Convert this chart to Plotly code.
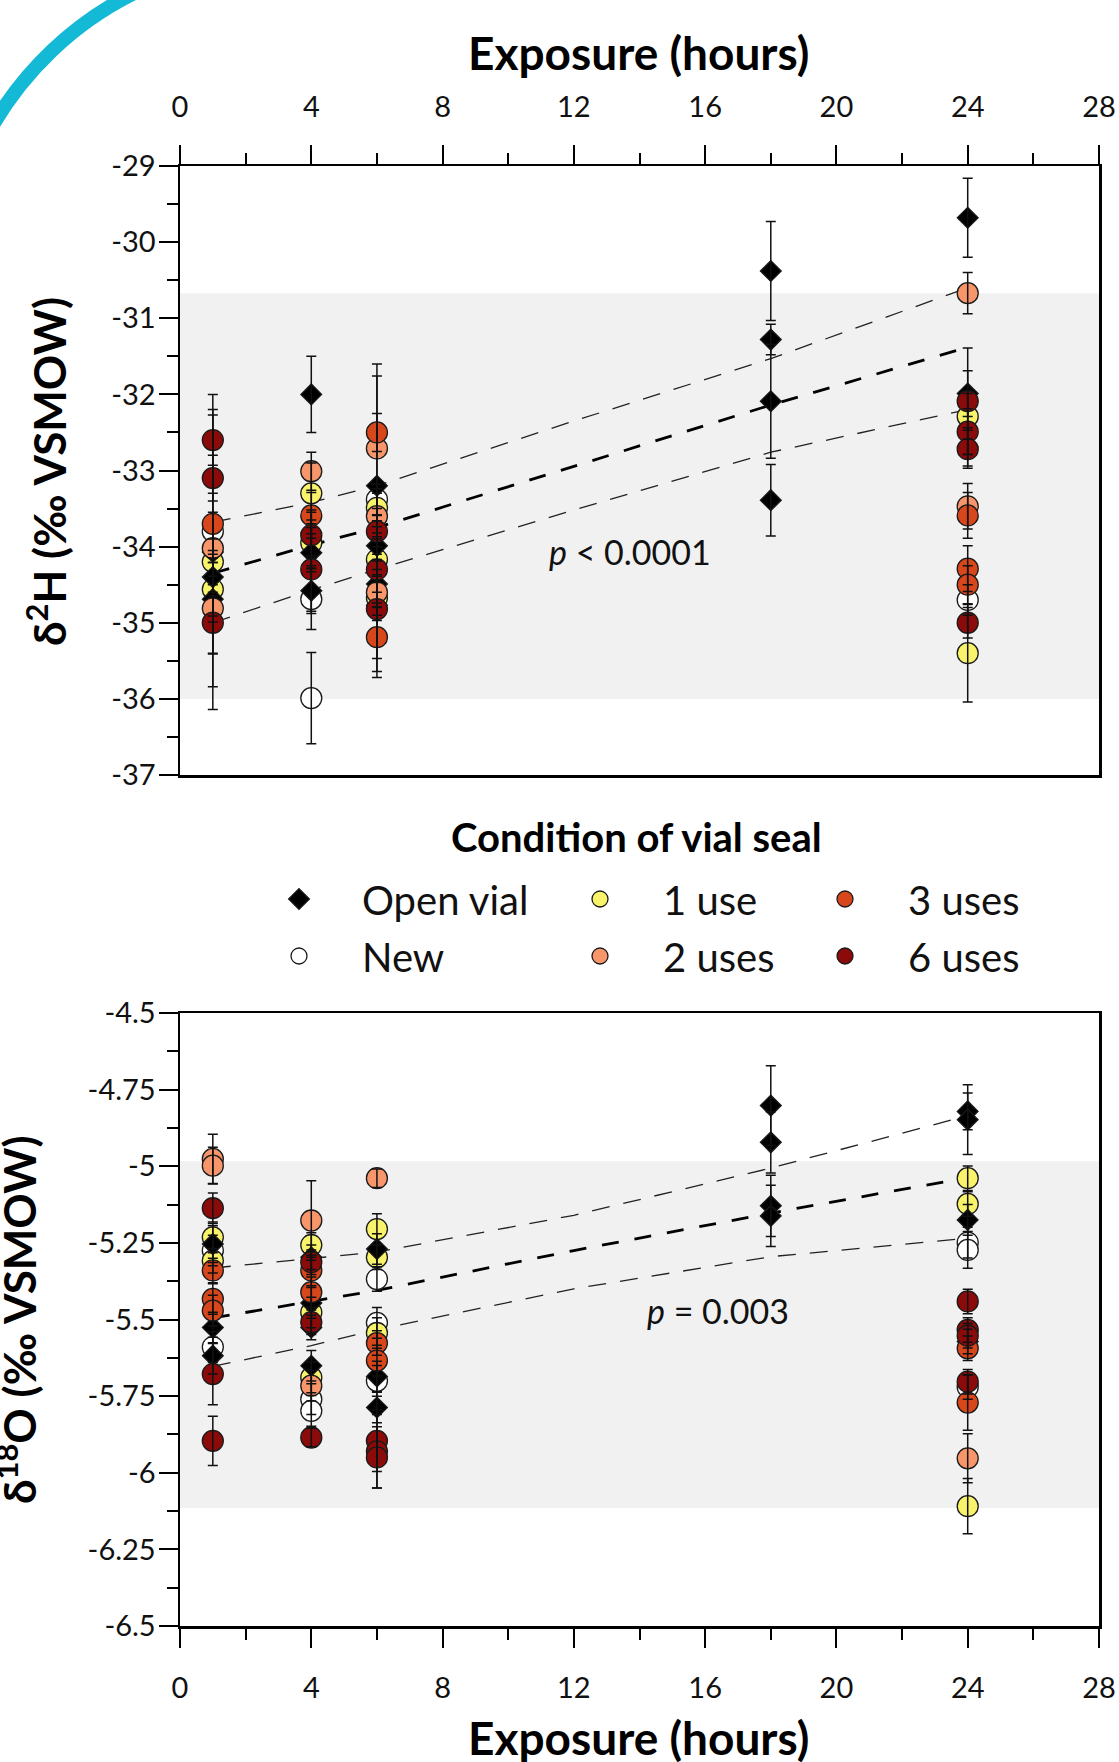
import math
import plotly.graph_objects as go

W, H = 1119, 1762

# ---------------- data: delta 2H (top panel) ----------------
open_x_H = [1, 1, 1, 4, 4, 4, 4, 6, 6, 6, 6, 18, 18, 18, 18, 24, 24, 24]
open_H = [-34.07, -34.40, -34.69, -32.00, -33.82, -34.08, -34.58, -33.20, -33.99, -34.49, -34.77,
          -30.38, -31.28, -32.09, -33.39, -29.68, -31.99, -32.69]
open_H_err = [2.07, 0.25, 0.30, 0.50, 0.30, 0.25, 0.30, 1.60, 0.40, 0.30, 0.95,
              0.65, 0.20, 0.75, 0.47, 0.52, 0.30, 0.25]

new_x_H = [1, 4, 4, 6, 24]
new_H = [-33.80, -34.69, -35.99, -33.38, -34.70]
new_H_err = [0.25, 0.40, 0.60, 0.20, 0.20]

one_x_H = [1, 1, 4, 4, 6, 6, 6, 24, 24]
one_H = [-34.20, -34.56, -33.30, -33.95, -33.49, -34.17, -34.67, -32.29, -35.40]
one_H_err = [0.30, 0.35, 0.40, 0.30, 0.25, 0.30, 0.30, 0.30, 0.64]

two_x_H = [1, 1, 4, 6, 6, 6, 24, 24]
two_H = [-34.02, -34.81, -33.01, -32.71, -33.60, -34.60, -30.67, -33.47]
two_H_err = [1.82, 0.60, 0.25, 0.95, 0.30, 0.30, 0.27, 0.30]

three_x_H = [1, 4, 6, 6, 24, 24, 24]
three_H = [-33.70, -33.59, -32.50, -35.19, -33.59, -34.29, -34.50]
three_H_err = [0.40, 0.30, 0.25, 0.45, 0.30, 0.30, 0.25]

six_x_H = [1, 1, 1, 4, 4, 6, 6, 6, 24, 24, 24, 24]
six_H = [-32.60, -33.10, -35.00, -33.85, -34.30, -33.80, -34.30, -34.82, -32.09, -32.49, -32.72, -35.00]
six_H_err = [0.33, 0.30, 0.40, 0.30, 0.55, 0.30, 0.30, 0.65, 0.70, 0.30, 0.25, 0.20]

# ---------------- data: delta 18O (bottom panel) ----------------
open_x_O = [1, 1, 1, 4, 4, 4, 4, 6, 6, 6, 18, 18, 18, 18, 24, 24, 24, 24]
open_O = [-5.254, -5.526, -5.618, -5.297, -5.446, -5.526, -5.651, -5.270, -5.686, -5.787,
          -4.802, -4.922, -5.129, -5.162, -4.821, -4.848, -5.175, -5.572]
open_O_err = [0.06, 0.05, 0.06, 0.04, 0.05, 0.04, 0.05, 0.05, 0.05, 0.05,
              0.13, 0.10, 0.10, 0.10, 0.06, 0.114, 0.05, 0.04]

new_x_O = [1, 1, 4, 4, 6, 6, 6, 24, 24, 24]
new_O = [-5.275, -5.590, -5.760, -5.798, -5.368, -5.511, -5.700, -5.249, -5.273, -5.720]
new_O_err = [0.05, 0.05, 0.05, 0.05, 0.04, 0.05, 0.05, 0.05, 0.06, 0.04]

one_x_O = [1, 1, 4, 4, 4, 6, 6, 6, 24, 24, 24]
one_O = [-5.232, -5.308, -5.257, -5.477, -5.689, -5.205, -5.297, -5.544, -5.039, -5.123, -6.109]
one_O_err = [0.05, 0.04, 0.04, 0.05, 0.05, 0.05, 0.04, 0.05, 0.04, 0.04, 0.09]

two_x_O = [1, 1, 4, 4, 6, 24]
two_O = [-4.976, -4.998, -5.177, -5.716, -5.039, -5.953]
two_O_err = [0.08, 0.06, 0.13, 0.05, 0.03, 0.08]

three_x_O = [1, 1, 1, 4, 4, 6, 6, 24, 24]
three_O = [-5.340, -5.433, -5.471, -5.340, -5.411, -5.577, -5.634, -5.594, -5.771]
three_O_err = [0.04, 0.05, 0.05, 0.05, 0.05, 0.04, 0.05, 0.04, 0.09]

six_x_O = [1, 1, 1, 4, 4, 4, 6, 6, 6, 24, 24, 24, 24]
six_O = [-5.137, -5.678, -5.896, -5.313, -5.509, -5.885, -5.896, -5.930, -5.950,
         -5.441, -5.534, -5.553, -5.703]
six_O_err = [0.05, 0.10, 0.08, 0.04, 0.04, 0.03, 0.10, 0.12, 0.10, 0.04, 0.04, 0.04, 0.04]

# ---------------- regression line and confidence bands ----------------
trend_x = [1, 4, 6, 12, 18, 24]
H_fit = [-34.35, -33.98, -33.75, -32.95, -32.14, -31.38]
H_upper = [-33.68, -33.42, -33.20, -32.35, -31.53, -30.60]
H_lower = [-35.00, -34.57, -34.30, -33.52, -32.76, -32.20]
O_fit = [-5.495, -5.440, -5.405, -5.275, -5.153, -5.037]
O_upper = [-5.332, -5.300, -5.280, -5.160, -5.006, -4.835]
O_lower = [-5.653, -5.585, -5.533, -5.400, -5.295, -5.235]

# shaded reference ranges
H_band = [-30.67, -36.00]
O_band = [-4.984, -6.115]

# ticks
x_ticks = [0, 4, 8, 12, 16, 20, 24, 28]
x_ticktext = ["0", "4", "8", "12", "16", "20", "24", "28"]
H_ticks = [-29, -30, -31, -32, -33, -34, -35, -36, -37]
H_ticktext = ["-29", "-30", "-31", "-32", "-33", "-34", "-35", "-36", "-37"]
O_ticks = [-4.5, -4.75, -5.0, -5.25, -5.5, -5.75, -6.0, -6.25, -6.5]
O_ticktext = ["-4.5", "-4.75", "-5", "-5.25", "-5.5", "-5.75", "-6", "-6.25", "-6.5"]

colors = ["#ffffff", "#f9f36c", "#000000", "#f7966a", "#d8461c", "#8b0b0b"]

FONT = "Lato"

series = [
    # name, xH, yH, eH, xO, yO, eO, symbol, color, legend id
    ("New", new_x_H, new_H, new_H_err, new_x_O, new_O, new_O_err, "circle", colors[0], "legend4"),
    ("1 use", one_x_H, one_H, one_H_err, one_x_O, one_O, one_O_err, "circle", colors[1], "legend2"),
    ("Open vial", open_x_H, open_H, open_H_err, open_x_O, open_O, open_O_err, "diamond", colors[2], "legend"),
    ("2 uses", two_x_H, two_H, two_H_err, two_x_O, two_O, two_O_err, "circle", colors[3], "legend5"),
    ("3 uses", three_x_H, three_H, three_H_err, three_x_O, three_O, three_O_err, "circle", colors[4], "legend3"),
    ("6 uses", six_x_H, six_H, six_H_err, six_x_O, six_O, six_O_err, "circle", colors[5], "legend6"),
]

fig = go.Figure()

# regression lines (drawn first, beneath the markers)
for xa, ya, fit, up, lo in [("x", "y", H_fit, H_upper, H_lower), ("x2", "y2", O_fit, O_upper, O_lower)]:
    for yy in (up, lo):
        fig.add_trace(go.Scatter(x=trend_x, y=yy, mode="lines", xaxis=xa, yaxis=ya,
                                 line=dict(color="#222222", width=1.3, dash="18px,14px"),
                                 showlegend=False, hoverinfo="skip"))
    fig.add_trace(go.Scatter(x=trend_x, y=fit, mode="lines", xaxis=xa, yaxis=ya,
                             line=dict(color="#000000", width=2.8, dash="17px,16px"),
                             showlegend=False, hoverinfo="skip"))

# markers
for name, xH, yH, eH, xO, yO, eO, sym, col, leg in series:
    size = 16 if sym == "diamond" else 21
    mk = dict(symbol=sym, size=size, color=col, line=dict(color="#1a1a1a", width=1.3))
    fig.add_trace(go.Scatter(x=xH, y=yH, mode="markers", name=name, marker=mk,
                             xaxis="x", yaxis="y", legend=leg, showlegend=True))
    fig.add_trace(go.Scatter(x=xO, y=yO, mode="markers", name=name, marker=mk,
                             xaxis="x2", yaxis="y2", legend=leg, showlegend=False))

# error bars drawn on top of the markers
for name, xH, yH, eH, xO, yO, eO, sym, col, leg in series:
    for xx, yy, ee, xa, ya in [(xH, yH, eH, "x", "y"), (xO, yO, eO, "x2", "y2")]:
        fig.add_trace(go.Scatter(x=xx, y=yy, mode="markers", xaxis=xa, yaxis=ya,
                                 marker=dict(size=2, color="rgba(0,0,0,0)"),
                                 error_y=dict(type="data", array=ee, visible=True,
                                              color="#111111", thickness=1.5, width=5),
                                 showlegend=False, hoverinfo="skip"))

# layout geometry (pixels -> paper fractions, margins are zero)
px_left, px_right = 180, 1099
top_y0, top_y1 = 166, 775
bot_y0, bot_y1 = 1013, 1626

def fx(px):
    return px / W

def fy(py):
    return 1 - py / H

xdom = [fx(px_left), fx(px_right)]

axis_common = dict(showline=True, linewidth=2.5, linecolor="#000000", mirror=True,
                   showgrid=False, zeroline=False, ticks="outside", tickwidth=2,
                   tickcolor="#000000", automargin=False,
                   tickfont=dict(family=FONT, size=29, color="#111111"))
minor_style = dict(ticklen=11, tickwidth=2, ticks="outside", tickcolor="#000000")

fig.update_layout(
    width=W, height=H,
    margin=dict(l=0, r=0, t=0, b=0, pad=0, autoexpand=False),
    paper_bgcolor="white", plot_bgcolor="white",
    font=dict(family=FONT, color="#000000"),
    xaxis=dict(domain=xdom, anchor="y", side="top", range=[0, 28],
               tickvals=x_ticks, ticktext=x_ticktext, ticklen=19, ticklabelstandoff=16,
               minor=dict(dtick=2, tick0=0, **minor_style), **axis_common),
    yaxis=dict(domain=[fy(top_y1), fy(top_y0)], anchor="x", range=[-37, -29],
               tickvals=H_ticks, ticktext=H_ticktext, ticklen=19, ticklabelstandoff=-3,
               minor=dict(dtick=0.5, tick0=-29, **minor_style), **axis_common),
    xaxis2=dict(domain=xdom, anchor="y2", side="bottom", range=[0, 28],
                tickvals=x_ticks, ticktext=x_ticktext, ticklen=19, ticklabelstandoff=16,
                minor=dict(dtick=2, tick0=0, **minor_style), **axis_common),
    yaxis2=dict(domain=[fy(bot_y1), fy(bot_y0)], anchor="x2", range=[-6.5, -4.5],
                tickvals=O_ticks, ticktext=O_ticktext, ticklen=19, ticklabelstandoff=-3,
                minor=dict(dtick=0.125, tick0=-4.5, **minor_style), **axis_common),
)

# six single-item legends laid out as a 3 x 2 grid
leg_marker_x = [299, 600, 845]
leg_row_y = [899, 956]
ITEMW = 116
leg_ids = [["legend", "legend2", "legend3"], ["legend4", "legend5", "legend6"]]
for r, row in enumerate(leg_ids):
    for c, lid in enumerate(row):
        fig.update_layout({lid: dict(
            x=fx(leg_marker_x[c] - (ITEMW + 10) / 2), y=fy(leg_row_y[r]),
            xanchor="left", yanchor="middle", orientation="h",
            itemwidth=ITEMW, bgcolor="rgba(0,0,0,0)", borderwidth=0,
            font=dict(family=FONT, size=40, color="#111111"),
            itemclick=False, itemdoubleclick=False)})

# shaded ranges
fig.add_shape(type="rect", xref="x", yref="y", x0=0, x1=28, y0=H_band[0], y1=H_band[1],
              fillcolor="#f1f1f1", line=dict(width=0), layer="below")
fig.add_shape(type="rect", xref="x2", yref="y2", x0=0, x1=28, y0=O_band[0], y1=O_band[1],
              fillcolor="#f1f1f1", line=dict(width=0), layer="below")

# decorative cyan arc in the top-left corner
cx, cy, rr = 284, 295, 337
t0, t1 = math.radians(203), math.radians(250)
k = 4 / 3 * math.tan((t1 - t0) / 4)
p0 = (cx + rr * math.cos(t0), cy + rr * math.sin(t0))
p3 = (cx + rr * math.cos(t1), cy + rr * math.sin(t1))
c1 = (p0[0] - k * rr * math.sin(t0), p0[1] + k * rr * math.cos(t0))
c2 = (p3[0] + k * rr * math.sin(t1), p3[1] - k * rr * math.cos(t1))
pts = [(fx(p[0]), fy(p[1])) for p in (p0, c1, c2, p3)]
path = "M {:.5f},{:.5f} C {:.5f},{:.5f} {:.5f},{:.5f} {:.5f},{:.5f}".format(*[v for p in pts for v in p])
fig.add_shape(type="path", xref="paper", yref="paper", path=path,
              line=dict(color="#14b9d5", width=14))

# titles and annotations
xt_font = dict(family=FONT, size=46, color="#000000")
yt_font = dict(family=FONT, size=44, color="#000000")
common_ann = dict(xref="paper", yref="paper", showarrow=False, xanchor="center", yanchor="middle")
fig.add_annotation(text="<b>Exposure (hours)</b>", x=fx(638), y=fy(53), font=xt_font, **common_ann)
fig.add_annotation(text="<b>Exposure (hours)</b>", x=fx(638), y=fy(1737), font=xt_font, **common_ann)
fig.add_annotation(text="<b>δ<sup>2</sup>H (‰ VSMOW)</b>", x=fx(46), y=fy(472), textangle=-90,
                   font=yt_font, **common_ann)
fig.add_annotation(text="<b>δ<sup>18</sup>O (‰ VSMOW)</b>", x=fx(16), y=fy(1320), textangle=-90,
                   font=yt_font, **common_ann)
fig.add_annotation(text="<b>Condition of vial seal</b>", x=fx(636), y=fy(837),
                   font=dict(family=FONT, size=40, color="#000000"), **common_ann)
fig.add_annotation(text="<i>p</i> < 0.0001", xref="x", yref="y", x=13.7, y=-34.07,
                   showarrow=False, xanchor="center", yanchor="middle",
                   font=dict(family=FONT, size=34, color="#111111"))
fig.add_annotation(text="<i>p</i> = 0.003", xref="x2", yref="y2", x=16.4, y=-5.47,
                   showarrow=False, xanchor="center", yanchor="middle",
                   font=dict(family=FONT, size=34, color="#111111"))

fig.write_html("out.html", config={"displayModeBar": False, "staticPlot": True},
               post_script="document.body.style.margin='0';document.body.style.overflow='hidden';")
